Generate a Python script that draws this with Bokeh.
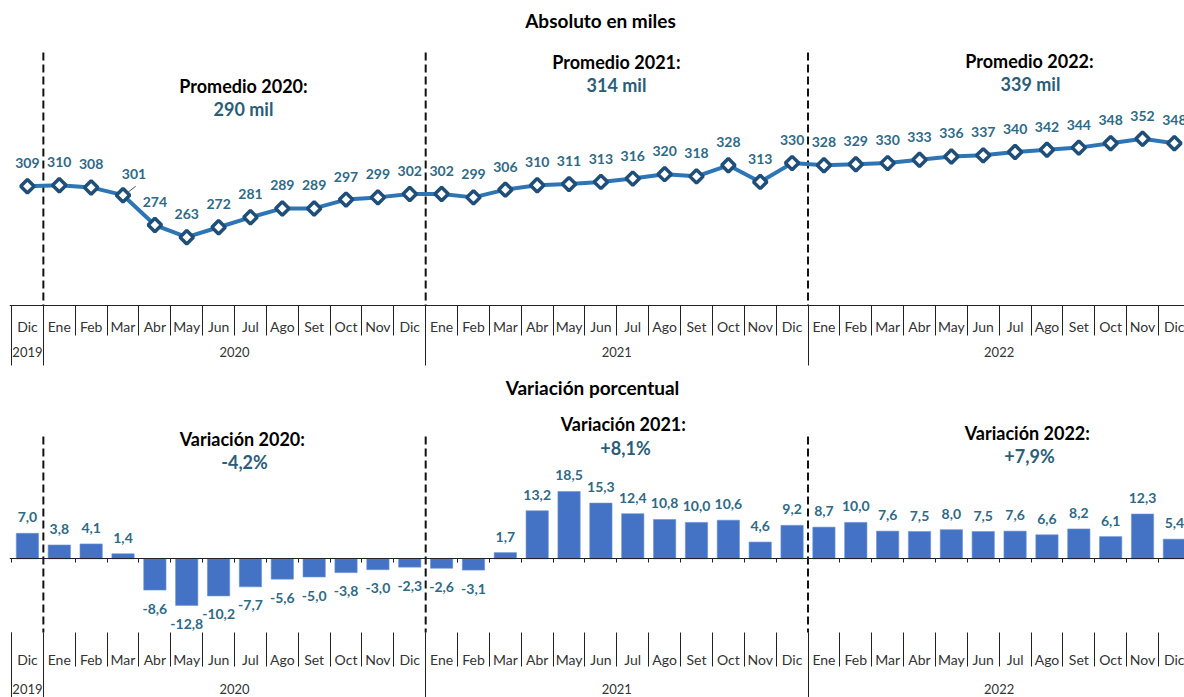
from bokeh.plotting import figure
from bokeh.models import ColumnDataSource, LinearAxis, FixedTicker, Range1d
from bokeh.layouts import column
from bokeh.core.properties import value
from bokeh.embed import file_html
from bokeh.resources import INLINE

# ---------------- data ----------------
months = ["Dic"] + ["Ene", "Feb", "Mar", "Abr", "May", "Jun", "Jul", "Ago", "Set", "Oct", "Nov", "Dic"] * 3
years = ["2019", "2020", "2021", "2022"]
year_first_index = [0, 1, 13, 25]
year_last_index = [0, 12, 24, 36]
absoluto = [309,
            310, 308, 301, 274, 263, 272, 281, 289, 289, 297, 299, 302,
            302, 299, 306, 310, 311, 313, 316, 320, 318, 328, 313, 330,
            328, 329, 330, 333, 336, 337, 340, 342, 344, 348, 352, 348]
variacion = [7.0,
             3.8, 4.1, 1.4, -8.6, -12.8, -10.2, -7.7, -5.6, -5.0, -3.8, -3.0, -2.3,
             -2.6, -3.1, 1.7, 13.2, 18.5, 15.3, 12.4, 10.8, 10.0, 10.6, 4.6, 9.2,
             8.7, 10.0, 7.6, 7.5, 8.0, 7.5, 7.6, 6.6, 8.2, 6.1, 12.3, 5.4]
promedio_titulos = ["Promedio 2020:", "Promedio 2021:", "Promedio 2022:"]
promedio_valores = ["290 mil", "314 mil", "339 mil"]
variacion_titulos = ["Variación  2020:", "Variación  2021:", "Variación  2022:"]
variacion_valores = ["-4,2%", "+8,1%", "+7,9%"]
titulo_1 = "Absoluto en miles"
titulo_2 = "Variación porcentual"

# ---------------- layout / style ----------------
FONT = value("Lato")
FONT_NAME = "Lato"
W = 1184
H1, H2 = 372, 325
PAGE_TOP = 0
FRAME_LEFT = 9
X0 = 11.0          # picture x of left edge of first category
CAT_W = 31.86
TEAL = "#2E6A86"
TEAL_D = "#2A5E77"
GRAY = "#333333"
LINE_C = "#2E75B6"
MARK_C = "#1F4E79"
BAR_C = "#4472C4"
DASH_C = "#111111"

def px_x(px):
    return -0.5 + (px - X0) / CAT_W

x_start = px_x(FRAME_LEFT)
x_end = px_x(W)

# top panel scale
K1 = 1.106
def val1(py):
    return 263 + (236.7 - py) / K1

# bottom panel scale
K2 = 3.64
def val2(py):
    return (558.3 - py) / K2

n = len(months)
xs = list(range(n))
bounds = [i - 0.5 for i in range(n + 1)]
year_bounds = [year_first_index[0] - 0.5] + [year_last_index[i] + 0.5 for i in range(len(years))]
year_centers = [(a + b) / 2 for a, b in zip(year_first_index, year_last_index)]
dash_bounds = [year_last_index[i] + 0.5 for i in range(len(years) - 1)]


def base_fig(height, y0, y1):
    p = figure(width=W, height=height, output_backend="svg", toolbar_location=None,
               x_range=Range1d(x_start, x_end), y_range=Range1d(y0, y1),
               x_axis_location=None, y_axis_location=None,
               min_border_left=FRAME_LEFT, min_border_right=0, min_border_top=0, min_border_bottom=0)
    p.outline_line_color = None
    p.grid.grid_line_color = None
    p.background_fill_color = "white"
    p.border_fill_color = "white"
    return p


def add_table(p, loc, month_standoff, year_standoff, month_len, year_len, top_line):
    sep = LinearAxis(fixed_location=loc, ticker=FixedTicker(ticks=bounds, minor_ticks=[]),
                     major_tick_out=month_len, major_tick_in=0, minor_tick_out=0, minor_tick_in=0,
                     major_label_text_color=None, major_tick_line_color="#222222",
                     axis_line_color="#222222" if top_line else None)
    p.add_layout(sep, "below")
    ysep = LinearAxis(fixed_location=loc, ticker=FixedTicker(ticks=year_bounds, minor_ticks=[]),
                      major_tick_out=year_len, major_tick_in=0, minor_tick_out=0, minor_tick_in=0,
                      major_label_text_color=None, major_tick_line_color="#222222",
                      axis_line_color=None)
    p.add_layout(ysep, "below")
    mlab = LinearAxis(fixed_location=loc, ticker=FixedTicker(ticks=xs, minor_ticks=[]),
                      major_label_overrides={i: m for i, m in enumerate(months)},
                      major_tick_out=0, major_tick_in=0, minor_tick_out=0, minor_tick_in=0,
                      axis_line_color=None, major_label_standoff=month_standoff,
                      major_label_text_font=FONT_NAME, major_label_text_font_size="14px",
                      major_label_text_color=GRAY)
    p.add_layout(mlab, "below")
    ylab = LinearAxis(fixed_location=loc, ticker=FixedTicker(ticks=year_centers, minor_ticks=[]),
                      major_label_overrides={c: y for c, y in zip(year_centers, years)},
                      major_tick_out=0, major_tick_in=0, minor_tick_out=0, minor_tick_in=0,
                      axis_line_color=None, major_label_standoff=year_standoff,
                      major_label_text_font=FONT_NAME, major_label_text_font_size="13px",
                      major_label_text_color=GRAY)
    p.add_layout(ylab, "below")


# ================= top panel =================
p1 = base_fig(H1, val1(PAGE_TOP + H1), val1(PAGE_TOP))
AX1 = val1(305)

p1.segment(x0=dash_bounds, y0=[val1(52)] * 3, x1=dash_bounds, y1=[AX1] * 3,
           line_color=DASH_C, line_width=2, line_dash="8 4")

src1 = ColumnDataSource(dict(
    x=xs, v=absoluto, lab=[str(v) for v in absoluto],
    xo=[11 if i == 3 else 0 for i in xs],
    yo=[-21 if i == 3 else -23 for i in xs]))
p1.line("x", "v", source=src1, line_color=LINE_C, line_width=4)
p1.scatter("x", "v", source=src1, marker="square", angle=0.7853981, size=9.5,
           fill_color="white", line_color=MARK_C, line_width=3.5)
p1.segment(x0=[3 + 0.12], y0=[absoluto[3] + 2 / K1], x1=[3 + 0.4], y1=[absoluto[3] + 9 / K1],
           line_color="#555555", line_width=1)
p1.text("x", "v", text="lab", source=src1, x_offset="xo", y_offset="yo",
        text_align="center", text_baseline="middle", text_font=FONT,
        text_font_style="bold", text_font_size="14px", text_color=TEAL)

add_table(p1, AX1, 12, 41, 30, 60, True)

p1.text(x=[px_x(600)], y=[val1(20)], text=[titulo_1], text_align="center", text_baseline="middle",
        text_font=FONT, text_font_style="bold", text_font_size="19px", text_color="black")
p1.text(x=[px_x(243), px_x(616), px_x(1029)], y=[val1(85), val1(61), val1(60)], text=promedio_titulos,
        text_align="center", text_baseline="middle", text_font=FONT, text_font_style="bold",
        text_font_size="18px", text_color="black")
p1.text(x=[px_x(243), px_x(616), px_x(1030)], y=[val1(108), val1(84), val1(83)], text=promedio_valores,
        text_align="center", text_baseline="middle", text_font=FONT, text_font_style="bold",
        text_font_size="18px", text_color=TEAL_D)

# ================= bottom panel =================
p2 = base_fig(H2, val2(PAGE_TOP + H1 + H2), val2(PAGE_TOP + H1))
AX2 = val2(632)

p2.segment(x0=dash_bounds, y0=[val2(436)] * 3, x1=dash_bounds, y1=[AX2] * 3,
           line_color=DASH_C, line_width=2, line_dash="8 4")

src2 = ColumnDataSource(dict(
    x=xs, v=variacion, lab=[f"{v:.1f}".replace(".", ",") for v in variacion],
    yo=[-16 if v >= 0 else 18.5 for v in variacion]))
p2.vbar(x="x", top="v", bottom=0, width=0.7, source=src2, fill_color=BAR_C, line_color="#6F93D6",
        line_width=0.6)
p2.text("x", "v", text="lab", source=src2, y_offset="yo",
        text_align="center", text_baseline="middle", text_font=FONT,
        text_font_style="bold", text_font_size="14px", text_color=TEAL)

zero_axis = LinearAxis(fixed_location=0, ticker=FixedTicker(ticks=bounds, minor_ticks=[]),
                       major_tick_out=4, major_tick_in=0, minor_tick_out=0, minor_tick_in=0,
                       major_label_text_color=None, major_tick_line_color="#222222",
                       axis_line_color="#222222")
p2.add_layout(zero_axis, "below")
add_table(p2, AX2, 18, 51, 34, 70, False)

p2.text(x=[px_x(592)], y=[val2(387)], text=[titulo_2], text_align="center", text_baseline="middle",
        text_font=FONT, text_font_style="bold", text_font_size="19px", text_color="black")
p2.text(x=[px_x(244), px_x(625), px_x(1029)], y=[val2(438), val2(423), val2(432)], text=variacion_titulos,
        text_align="center", text_baseline="middle", text_font=FONT, text_font_style="bold",
        text_font_size="18px", text_color="black")
p2.text(x=[px_x(244), px_x(625), px_x(1029)], y=[val2(461), val2(447), val2(455)], text=variacion_valores,
        text_align="center", text_baseline="middle", text_font=FONT, text_font_style="bold",
        text_font_size="18px", text_color=TEAL_D)

layout = column(p1, p2, spacing=0)
open("out.html", "w").write(file_html(layout, INLINE))
